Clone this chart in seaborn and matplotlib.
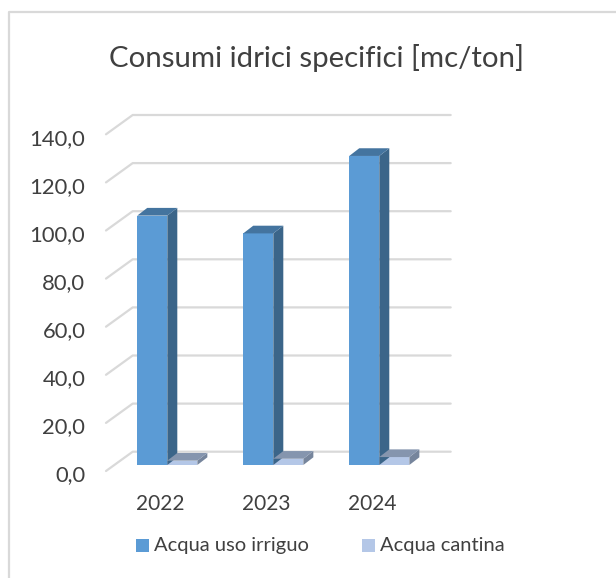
"""Consumi idrici specifici: barre pseudo-3D stile Excel."""

import matplotlib.pyplot as plt
import pandas as pd
import seaborn as sns
from matplotlib.lines import Line2D
from matplotlib.patches import Polygon
from matplotlib.transforms import ScaledTranslation

YEARS = ["2022", "2023", "2024"]
IRRIGUO = [103.7, 96.3, 128.5]
CANTINA = [1.8, 2.6, 3.3]
SERIES_NAMES = ["Acqua uso irriguo", "Acqua cantina"]
Y_TICKS = [0, 20, 40, 60, 80, 100, 120, 140]
Y_LABELS = ["0,0", "20,0", "40,0", "60,0", "80,0", "100,0", "120,0", "140,0"]
TITLE = "Consumi idrici specifici [mc/ton]"

W, H = 616, 578
TEXT = "#404040"
GRID = "#d9d9d9"
FRONT = ["#5b9bd5", "#b4c7e7"]
SIDE = ["#3b6589", "#76859c"]
TOP = ["#44749f", "#8595ae"]

sns.set_theme(style="white")
plt.rcParams["font.family"] = ["Lato", "DejaVu Sans"]

df = pd.DataFrame({
    "anno": YEARS * 2,
    "serie": [SERIES_NAMES[0]] * 3 + [SERIES_NAMES[1]] * 3,
    "valore": IRRIGUO + CANTINA,
})

fig = plt.figure(figsize=(W / 100, H / 100), dpi=100)
fig.patch.set_facecolor("white")

# piano delle barre, in pixel
left, right, base, top = 114.3, 432.3, 465.0, 128.3
ax = fig.add_axes([left / W, 1 - base / H, (right - left) / W, (base - top) / H])
sns.barplot(
    data=df, x="anno", y="valore", hue="serie",
    palette=FRONT, width=0.567, gap=0, saturation=1, linewidth=0,
    ax=ax, zorder=3, legend=False,
)
ax.set_ylim(0, 140)
ax.set_xlim(-0.5, 2.5)
ax.set_xlabel("")
ax.set_ylabel("")
ax.patch.set_alpha(0)
sns.despine(ax=ax, left=True, bottom=True)
ax.set_yticks(Y_TICKS)
ax.set_yticklabels(Y_LABELS, fontsize=15.8, color=TEXT)
ax.tick_params(axis="both", length=0, pad=0)
ax.tick_params(axis="x", labelsize=15, labelcolor=TEXT)
ax.grid(False)

for lab in ax.get_yticklabels():
    lab.set_transform(lab.get_transform() + ScaledTranslation(-29 / 100, -8.3 / 100, fig.dpi_scale_trans))
for lab in ax.get_xticklabels():
    lab.set_transform(lab.get_transform() + ScaledTranslation(-7 / 100, -29 / 100, fig.dpi_scale_trans))

# griglia su parete e pavimento: offset in pixel rispetto al piano barre
back_dx, back_dy = 18.4, 13.3
front_dx, front_dy = -8.3, -6.0
for tick in Y_TICKS:
    x0, y0 = ax.transData.transform((-0.5, tick))
    x1, _ = ax.transData.transform((2.5, tick))
    fig.add_artist(Line2D(
        [x0 + front_dx, x0 + back_dx, x1 + back_dx],
        [y0 + front_dy, y0 + back_dy, y0 + back_dy],
        transform=None, color=GRID, lw=1.6, zorder=0,
    ))

# facce laterali e superiori delle barre
depth_x, depth_y = 10.0, 7.7
bars = [p for p in ax.patches if p.get_height() > 0]
for i, bar in enumerate(bars):
    serie = 0 if i < len(YEARS) else 1
    (x0, y0), (x1, y1) = ax.transData.transform(
        [(bar.get_x(), 0), (bar.get_x() + bar.get_width(), bar.get_height())]
    )
    side = [(x1, y0), (x1 + depth_x, y0 + depth_y), (x1 + depth_x, y1 + depth_y), (x1, y1)]
    cap = [(x0, y1), (x1, y1), (x1 + depth_x, y1 + depth_y), (x0 + depth_x, y1 + depth_y)]
    fig.add_artist(Polygon(side, transform=None, fc=SIDE[serie], ec="none", zorder=2))
    fig.add_artist(Polygon(cap, transform=None, fc=TOP[serie], ec="none", zorder=2))

# bordo del grafico, tagliato a destra e in basso
fig.add_artist(Line2D([8.5, 8.5, W], [0, H - 11.5, H - 11.5], transform=None, color=GRID, lw=1.6))

fig.text(316.5 / W, 1 - 58 / H, TITLE, ha="center", va="center", fontsize=21.2, color=TEXT)

# legenda
for name, color, xp in zip(SERIES_NAMES, FRONT, [136, 362]):
    fig.add_artist(Polygon(
        [(xp, H - 539), (xp + 13, H - 539), (xp + 13, H - 552), (xp, H - 552)],
        transform=None, fc=color, ec="none",
    ))
    fig.text((xp + 18) / W, 1 - 545.5 / H, name, ha="left", va="center", fontsize=14.5, color=TEXT)

fig.savefig("out.png", dpi=100)
plt.close(fig)
